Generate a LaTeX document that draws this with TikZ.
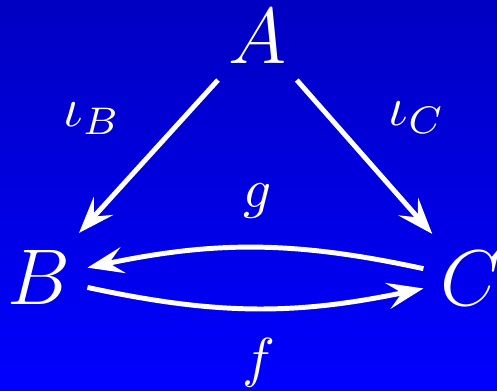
\documentclass[tikz,border=0pt]{standalone}
\usetikzlibrary{arrows.meta}
\begin{document}
\begin{tikzpicture}[
    x=0.182pt, y=-0.182pt,
    obj/.style={text=white, font=\Large, anchor=base, inner sep=2.9pt},
    lbl/.style={text=white, font=\normalsize, anchor=base},
    map/.style={draw=white, line width=0.9pt, -{Stealth[length=6.6pt, width=4.8pt, inset=2.6pt]}}
  ]
    % 背景（上が暗い青、下が明るい青）
    \shade[top color=blue!76!black, bottom color=blue] (0,0) rectangle (497,390);
    \useasboundingbox (0,0) rectangle (497,390);
    % 対象
    \node[obj] (A) at (258,63) {$A$};
    \node[obj] (B) at (39,304) {$B$};
    \node[obj] (C) at (471,305) {$C$};
    % 射
    \draw[map] (A) -- (B);
    \draw[map] (A) -- (C);
    \draw[map] ([yshift=1.7pt]C.west) to[bend right=12] ([yshift=1.7pt]B.east);
    \draw[map] ([yshift=-1.9pt]B.east) to[bend right=12] ([yshift=-1.9pt]C.west);
    % ラベル
    \node[lbl] (iB) at (92,126) {$\iota_B$};
    \node[lbl] (iC) at (417,125) {$\iota_C$};
    \node[lbl] (g) at (258,207) {$g$};
    \node[lbl] (f) at (259,376) {$f$};
  \end{tikzpicture}
\end{document}
